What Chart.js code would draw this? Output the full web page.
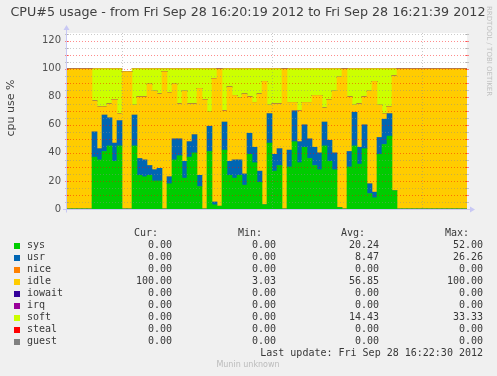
<!DOCTYPE html>
<html>
<head>
<meta charset="utf-8">
<script src="https://cdn.jsdelivr.net/npm/chart.js@4/dist/chart.umd.min.js"></script>
<style>
  body { margin: 0; background: #f0f0f0; }
  canvas { display: block; }
</style>
</head>
<body>
<canvas id="cpuChart" width="497" height="376"></canvas>
<script>
// タイトル・ラベル
var titleText = "CPU#5 usage - from Fri Sep 28 16:20:19 2012 to Fri Sep 28 16:21:39 2012";
var yLabel = "cpu use %";
var lastUpdate = "Last update: Fri Sep 28 16:22:30 2012";

// 1秒ごとのサンプル (16:20:19 から 80 個)
var startSec = 16 * 3600 + 20 * 60 + 19;
var sampleCount = 80;
var yTicks = [0, 10, 20, 30, 40, 50, 60, 70, 80, 90, 100, 110, 120];

// 各系列の値 (%)
var sys = [
  0, 0, 0, 0, 0, 37, 35, 41, 45, 34,
  45, 0, 0, 45, 24, 23, 24, 20, 20, 0,
  18, 35, 38, 22, 37, 40, 16, 0, 41, 3,
  2, 42, 24, 22, 24, 17, 39, 33, 19, 3,
  47, 27, 31, 0, 30, 48, 33, 44, 36, 31,
  28, 45, 34, 28, 1, 0, 30, 45, 32, 43,
  11, 8, 39, 46, 52, 13, 0, 0, 0, 0,
  0, 0, 0, 0, 0, 0, 0, 0, 0, 0
];
var usr = [
  0, 0, 0, 0, 0, 18, 8, 26, 20, 13,
  18, 0, 0, 22, 12, 12, 7, 8, 9, 0,
  5, 15, 12, 12, 11, 13, 8, 0, 18, 2,
  0, 20, 10, 13, 11, 8, 15, 11, 8, 0,
  21, 12, 12, 0, 12, 22, 15, 16, 14, 13,
  12, 17, 15, 12, 0, 0, 11, 24, 12, 17,
  7, 4, 12, 18, 16, 0, 0, 0, 0, 0,
  0, 0, 0, 0, 0, 0, 0, 0, 0, 0
];
var nice = [
  0, 0, 0, 0, 0, 0, 0, 0, 0, 0, 0, 0, 0, 0, 0, 0, 0, 0, 0, 0,
  0, 0, 0, 0, 0, 0, 0, 0, 0, 0, 0, 0, 0, 0, 0, 0, 0, 0, 0, 0,
  0, 0, 0, 0, 0, 0, 0, 0, 0, 0, 0, 0, 0, 0, 0, 0, 0, 0, 0, 0,
  0, 0, 0, 0, 0, 0, 0, 0, 0, 0, 0, 0, 0, 0, 0, 0, 0, 0, 0, 0
];
var idle = [
  100, 100, 100, 100, 100, 22, 30, 6, 10, 31,
  5, 98, 98, 7, 44, 45, 58, 56, 53, 98,
  60, 39, 25, 50, 27, 22, 62, 78, 10, 88,
  98, 8, 53, 46, 44, 57, 26, 32, 55, 88,
  6, 36, 32, 100, 34, 6, 22, 16, 26, 37,
  41, 10, 29, 44, 93, 100, 39, 5, 31, 20,
  66, 79, 23, 4, 5, 82, 100, 100, 100, 100,
  100, 100, 100, 100, 100, 100, 100, 100, 100, 100
];
var iowait = nice.slice();
var irq = nice.slice();
var soft = [
  0, 0, 0, 0, 0, 23, 27, 27, 25, 22,
  32, 0, 0, 26, 20, 20, 11, 16, 18, 2,
  17, 11, 25, 16, 25, 25, 14, 22, 31, 7,
  0, 30, 13, 19, 21, 18, 20, 24, 18, 9,
  26, 25, 25, 0, 24, 24, 30, 24, 24, 19,
  19, 28, 22, 16, 6, 0, 20, 26, 25, 20,
  16, 9, 26, 32, 27, 5, 0, 0, 0, 0,
  0, 0, 0, 0, 0, 0, 0, 0, 0, 0
];
var steal = nice.slice();
var guest = nice.slice();

// 凡例の表
var seriesNames = ["sys", "usr", "nice", "idle", "iowait", "irq", "soft", "steal", "guest"];
var seriesColors = ["#00cc00", "#0066b3", "#ff8000", "#ffcc00", "#330099", "#990099", "#ccff00", "#ff0000", "#808080"];
var curVals = ["0.00", "0.00", "0.00", "100.00", "0.00", "0.00", "0.00", "0.00", "0.00"];
var minVals = ["0.00", "0.00", "0.00", "3.03", "0.00", "0.00", "0.00", "0.00", "0.00"];
var avgVals = ["20.24", "8.47", "0.00", "56.85", "0.00", "0.00", "14.43", "0.00", "0.00"];
var maxVals = ["52.00", "26.26", "0.00", "100.00", "0.00", "0.00", "33.33", "0.00", "0.00"];

//時刻ラベル作成
function set2fig(num) {
  return num < 10 ? "0" + num : "" + num;
}
var times = [];
for (var i = 0; i < sampleCount; i++) {
  var t = startSec + i;
  times.push(set2fig(Math.floor(t / 3600)) + ":" + set2fig(Math.floor(t / 60) % 60) + ":" + set2fig(t % 60));
}

var seriesData = [sys, usr, nice, idle, iowait, irq, soft, steal, guest];
var datasets = seriesNames.map(function (name, i) {
  return {
    label: name,
    data: seriesData[i],
    backgroundColor: seriesColors[i],
    borderWidth: 0,
    categoryPercentage: 1.0,
    barPercentage: 1.0
  };
});

var axisColor = "#c8c8f4";

// rrdtool 風の背景・グリッド・文字
var rrdPlugin = {
  id: "rrdStyle",
  beforeDraw: function (chart) {
    var ctx = chart.ctx;
    var a = chart.chartArea;
    ctx.save();
    ctx.fillStyle = "#f0f0f0";
    ctx.fillRect(0, 0, chart.width, chart.height);
    ctx.fillStyle = "#ffffff";
    ctx.fillRect(a.left, a.top, a.right - a.left, a.bottom - a.top);
    ctx.restore();
  },
  afterDatasetsDraw: function (chart) {
    var ctx = chart.ctx;
    var a = chart.chartArea;
    var xs = chart.scales.x;
    var ys = chart.scales.y;
    ctx.save();
    ctx.lineWidth = 1;
    // 横グリッド (5 ごと)
    for (var v = 5; v <= 125; v += 5) {
      var y = Math.round(ys.getPixelForValue(v)) + 0.5;
      if (y < a.top) break;
      var major = v % 10 === 0 && v <= 120;
      ctx.strokeStyle = major ? "rgba(255,0,0,0.45)" : "rgba(140,140,140,0.45)";
      ctx.setLineDash([1, 2]);
      ctx.beginPath();
      ctx.moveTo(a.left, y);
      ctx.lineTo(a.right, y);
      ctx.stroke();
      ctx.setLineDash([]);
      ctx.beginPath();
      ctx.moveTo(a.left - 2, y);
      ctx.lineTo(a.left + 2, y);
      ctx.moveTo(a.right - 2, y);
      ctx.lineTo(a.right + 2, y);
      ctx.stroke();
    }
    // 縦グリッド (30 秒ごと)
    var half = (xs.getPixelForValue(1) - xs.getPixelForValue(0)) / 2;
    times.forEach(function (lab, i) {
      if (parseInt(lab.slice(6), 10) % 30 !== 0) return;
      var x = Math.round(xs.getPixelForValue(i) - half) + 0.5;
      ctx.strokeStyle = "rgba(140,140,140,0.45)";
      ctx.setLineDash([1, 2]);
      ctx.beginPath();
      ctx.moveTo(x, a.top);
      ctx.lineTo(x, a.bottom);
      ctx.stroke();
      ctx.setLineDash([]);
    });
    // 軸と矢印
    var x0 = a.left - 0.5;
    var y0 = Math.round(ys.getPixelForValue(0)) + 0.5;
    ctx.strokeStyle = axisColor;
    ctx.fillStyle = axisColor;
    ctx.beginPath();
    ctx.moveTo(x0, y0 + 3);
    ctx.lineTo(x0, a.top - 4);
    ctx.moveTo(a.left - 4, y0);
    ctx.lineTo(a.right + 4, y0);
    ctx.stroke();
    ctx.beginPath();
    ctx.moveTo(x0 - 3, a.top - 3);
    ctx.lineTo(x0, a.top - 8);
    ctx.lineTo(x0 + 3, a.top - 3);
    ctx.closePath();
    ctx.fill();
    ctx.beginPath();
    ctx.moveTo(a.right + 3, y0 - 3);
    ctx.lineTo(a.right + 8, y0);
    ctx.lineTo(a.right + 3, y0 + 3);
    ctx.closePath();
    ctx.fill();
    ctx.restore();
  },
  afterDraw: function (chart) {
    var ctx = chart.ctx;
    ctx.save();
    // タイトル
    ctx.fillStyle = "#404040";
    ctx.font = "12.7px 'DejaVu Sans'";
    ctx.textAlign = "center";
    ctx.textBaseline = "middle";
    ctx.fillText(titleText, 248, 13);
    // 縦軸ラベル
    ctx.save();
    ctx.translate(11, 108);
    ctx.rotate(-Math.PI / 2);
    ctx.font = "11px 'DejaVu Sans'";
    ctx.fillText(yLabel, 0, 0);
    ctx.restore();
    // RRDTOOL 透かし
    ctx.save();
    ctx.translate(489, 6);
    ctx.rotate(Math.PI / 2);
    ctx.fillStyle = "#c0c0c0";
    ctx.font = "7px 'DejaVu Sans'";
    ctx.textAlign = "left";
    ctx.fillText("RRDTOOL / TOBI OETIKER", 0, 0);
    ctx.restore();
    // 凡例表
    ctx.font = "10px 'DejaVu Sans Mono'";
    ctx.fillStyle = "#383838";
    ctx.textAlign = "right";
    var cols = [172, 276, 379, 483];
    var heads = ["Cur:", "Min:", "Avg:", "Max:"];
    heads.forEach(function (h, j) {
      ctx.fillText(h, cols[j] - 14, 233);
    });
    var tables = [curVals, minVals, avgVals, maxVals];
    seriesNames.forEach(function (name, i) {
      var y = 245.5 + i * 12;
      ctx.fillStyle = seriesColors[i];
      ctx.fillRect(14, Math.round(y) - 3, 6, 6);
      ctx.fillStyle = "#383838";
      ctx.textAlign = "left";
      ctx.fillText(name, 27, y);
      ctx.textAlign = "right";
      tables.forEach(function (col, j) {
        ctx.fillText(col[i], cols[j], y);
      });
    });
    ctx.fillText(lastUpdate, 483, 353);
    ctx.fillStyle = "#bbbbbb";
    ctx.font = "8px 'DejaVu Sans'";
    ctx.textAlign = "center";
    ctx.fillText("Munin unknown", 248, 365);
    ctx.restore();
  }
};

var cpuChart = new Chart(document.getElementById("cpuChart"), {
  type: "bar",
  data: { labels: times, datasets: datasets },
  options: {
    responsive: false,
    animation: false,
    layout: { padding: { top: 33, left: 0, right: 30, bottom: 167 } },
    plugins: {
      legend: { display: false },
      tooltip: { enabled: false },
      title: { display: false }
    },
    scales: {
      x: {
        stacked: true,
        display: false
      },
      y: {
        stacked: true,
        min: 0,
        max: 125.5,
        afterFit: function (scale) {
          scale.width = 67;
        },
        afterBuildTicks: function (scale) {
          scale.ticks = yTicks.map(function (v) {
            return { value: v };
          });
        },
        grid: { display: false, drawTicks: false },
        border: { display: false },
        ticks: {
          padding: 6,
          color: "#505050",
          font: { family: "'DejaVu Sans'", size: 10 }
        }
      }
    }
  },
  plugins: [rrdPlugin]
});
</script>
</body>
</html>
